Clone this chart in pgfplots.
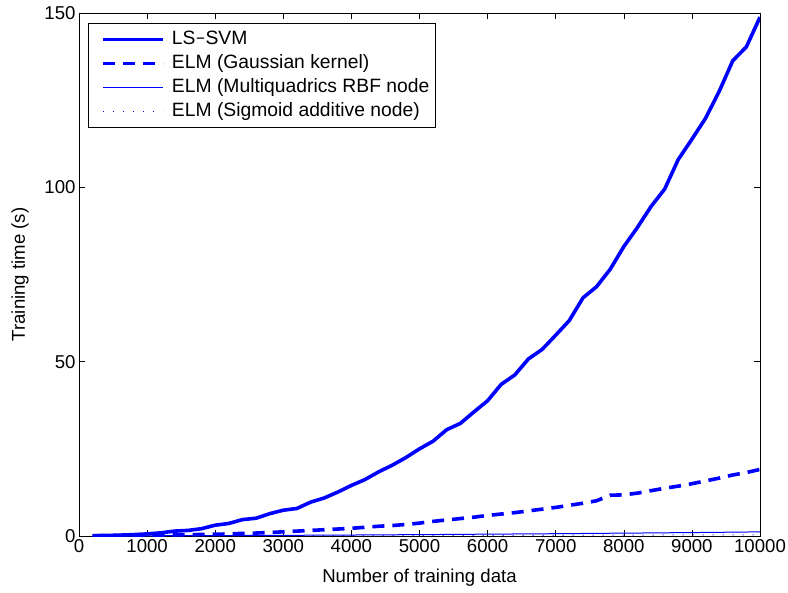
\documentclass[border=0pt]{standalone}
\usepackage{pgfplots}
\pgfplotsset{compat=1.18}
\usepackage{fontspec}
\setmainfont{Liberation Sans}

% Training time of LS-SVM and ELM variants versus training-set size
\pgfplotstableread{
n     lssvm  gauss  mq    sig
200   0.10   0.05   0.02  0.01
400   0.15   0.08   0.03  0.01
600   0.25   0.10   0.04  0.02
800   0.40   0.15   0.05  0.02
1000  0.60   0.20   0.06  0.03
1200  0.90   0.25   0.07  0.03
1400  1.40   0.30   0.08  0.03
1600  1.60   0.35   0.09  0.04
1800  2.10   0.45   0.10  0.04
2000  3.10   0.50   0.11  0.05
2200  3.60   0.60   0.13  0.05
2400  4.70   0.75   0.14  0.05
2600  5.10   0.85   0.16  0.06
2800  6.40   1.00   0.17  0.06
3000  7.40   1.20   0.19  0.07
3200  7.90   1.40   0.21  0.07
3400  9.70   1.60   0.22  0.08
3600  10.9   1.80   0.24  0.08
3800  12.6   2.00   0.26  0.09
4000  14.5   2.20   0.28  0.09
4200  16.2   2.50   0.30  0.10
4400  18.4   2.80   0.32  0.11
4600  20.3   3.00   0.35  0.11
4800  22.5   3.30   0.37  0.12
5000  25.0   3.70   0.40  0.13
5200  27.2   4.20   0.42  0.13
5400  30.5   4.60   0.44  0.14
5600  32.3   5.00   0.47  0.15
5800  35.6   5.40   0.50  0.16
6000  38.8   5.90   0.52  0.17
6200  43.5   6.30   0.55  0.17
6400  46.2   6.70   0.58  0.18
6600  50.8   7.20   0.60  0.19
6800  53.5   7.70   0.63  0.20
7000  57.6   8.20   0.66  0.21
7200  61.8   8.80   0.70  0.22
7400  68.3   9.40   0.72  0.23
7600  71.5   10.1   0.76  0.24
7800  76.5   11.7   0.79  0.25
8000  83.0   11.8   0.82  0.26
8200  88.5   12.3   0.85  0.27
8400  94.5   13.0   0.88  0.28
8600  99.5   13.7   0.92  0.29
8800  108.0  14.3   0.95  0.30
9000  113.8  15.0   0.98  0.31
9200  119.8  15.8   1.02  0.32
9400  127.5  16.6   1.06  0.33
9600  136.3  17.5   1.10  0.34
9800  140.3  18.2   1.14  0.35
10000 148.8  19.1   1.20  0.36
}\timing

\begin{document}
\begin{tikzpicture}
\useasboundingbox (-79bp,-57bp) rectangle (709bp,536bp);
\begin{axis}[
  scale only axis,
  width=681bp, height=523bp,
  xmin=0, xmax=10000, ymin=0, ymax=150,
  xtick={0,1000,...,10000},
  ytick={0,50,100,150},
  scaled x ticks=false,
  /pgf/number format/1000 sep={},
  /pgf/number format/assume math mode=true,
  tick align=inside,
  major tick length=6bp,
  axis line style={line width=0.8bp, black},
  every tick/.style={black, line width=0.6bp},
  tick label style={font=\fontsize{18.6bp}{22bp}\selectfont},
  label style={font=\fontsize{18.6bp}{22bp}\selectfont},
  xlabel={Number of training data},
  ylabel={Training time (s)},
  xlabel style={at={(axis description cs:0.5,0)}, anchor=center, yshift=-41.5bp},
  ylabel style={at={(axis description cs:-0.0866,0.5)}, anchor=center},
  legend cell align=left,
  legend image code/.code={\path (0bp,0bp); \draw[#1] (7bp,0bp) -- (67bp,0bp);},
  legend style={
    at={(axis description cs:0,1)}, anchor=north west,
    xshift=9bp, yshift=-10bp,
    draw=black, line width=0.8bp,
    font=\fontsize{19.3bp}{23bp}\selectfont,
    inner xsep=6bp, inner ysep=7bp,
    column sep=7bp,
    row sep=6bp,
    nodes={inner sep=0bp, text height=14bp, text depth=4bp},
  },
]
\addplot[draw=blue, line width=3.6bp, line join=round] table[x=n, y=lssvm] {\timing};
\addlegendentry{LS\texttt{-}SVM}
\addplot[draw=blue, line width=3.6bp, dash pattern=on 12bp off 8bp] table[x=n, y=gauss] {\timing};
\addlegendentry{ELM (Gaussian kernel)}
\addplot[draw=blue, line width=1bp] table[x=n, y=mq] {\timing};
\addlegendentry{ELM (Multiquadrics RBF node}
\addplot[draw=blue, line width=1bp, dash pattern=on 1bp off 9bp] table[x=n, y=sig] {\timing};
\addlegendentry{ELM (Sigmoid additive node)}
\end{axis}
\end{tikzpicture}
\end{document}
